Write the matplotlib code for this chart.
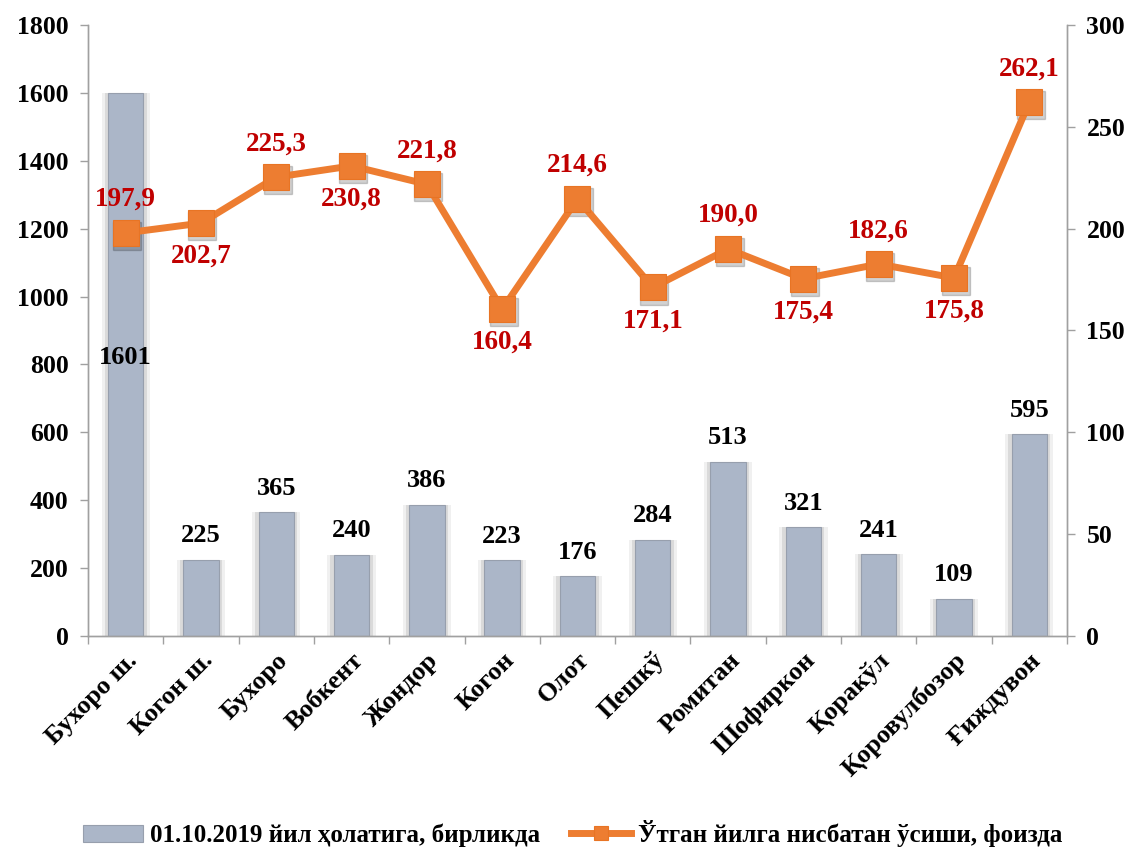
import matplotlib
matplotlib.use("Agg")
import matplotlib.pyplot as plt
import numpy as np

categories = ["Бухоро ш.", "Когон ш.", "Бухоро", "Вобкент", "Жондор", "Когон", "Олот",
              "Пешкў", "Ромитан", "Шофиркон", "Қоракўл", "Қоровулбозор", "Ғиждувон"]
units = [1601, 225, 365, 240, 386, 223, 176, 284, 513, 321, 241, 109, 595]
growth = [197.9, 202.7, 225.3, 230.8, 221.8, 160.4, 214.6, 171.1, 190.0, 175.4, 182.6, 175.8, 262.1]
growth_labels = ["197,9", "202,7", "225,3", "230,8", "221,8", "160,4", "214,6", "171,1",
                 "190,0", "175,4", "182,6", "175,8", "262,1"]
label_above = [True, False, True, False, True, False, True, False, True, False, True, False, True]
left_ticks = [0, 200, 400, 600, 800, 1000, 1200, 1400, 1600, 1800]
right_ticks = [0, 50, 100, 150, 200, 250, 300]
legend_labels = ["01.10.2019 йил ҳолатига, бирликда", "Ўтган йилга нисбатан ўсиши, фоизда"]

plt.rcParams['font.family'] = ['Liberation Serif', 'DejaVu Serif']
plt.rcParams['font.weight'] = 'bold'

fig = plt.figure(figsize=(11.34, 8.49), dpi=100)
ax = fig.add_axes([0.0776, 0.2509, 0.8633, 0.7197])
ax2 = ax.twinx()

x = np.arange(len(categories))
bar_color = "#ABB6C8"
line_color = "#ED7D31"
spine_color = "#A0A0A0"

# soft glow/shadow around bars
ax.bar(x, units, width=0.64, color="#F0F0F0", zorder=1, linewidth=0)
ax.bar(x, units, width=0.56, color="#DADADA", zorder=1, linewidth=0)
bars = ax.bar(x, units, width=0.47, color=bar_color, edgecolor="#979FAD", linewidth=0.8, zorder=2,
              label=legend_labels[0])

for i, v in enumerate(units):
    if v > 1000:
        ax.text(x[i], v * 0.512, str(v), ha='center', va='center', fontsize=19,
                fontweight='bold', color='black', zorder=5)
    else:
        ax.annotate(str(v), (x[i], v), xytext=(0, 9), textcoords='offset points',
                    ha='center', va='bottom', fontsize=19, fontweight='bold', color='black')

ax.set_xlim(-0.5, len(categories) - 0.5)
ax.set_ylim(0, 1800)
ax.set_yticks(left_ticks)
ax.set_yticklabels([str(t) for t in left_ticks], fontsize=18.5, fontweight='bold')
ax.set_xticks(x)
ax.set_xticklabels(categories, rotation=45, ha='right', rotation_mode='anchor',
                   fontsize=19, fontweight='bold')
ax.tick_params(axis='x', length=0, pad=9)
ax.set_xticks(np.arange(-0.5, len(categories), 1), minor=True)
ax.tick_params(axis='x', which='minor', length=6, color=spine_color, width=1)
ax.tick_params(axis='y', length=6, color=spine_color, width=1, pad=8)

# marker shadows
ax2.plot(x + 0.02, [g - 1.5 for g in growth], linestyle='none', marker='s', markersize=20,
         color='#000000', alpha=0.18, zorder=3)
line, = ax2.plot(x, growth, color=line_color, linewidth=5, marker='s', markersize=19,
                 markerfacecolor=line_color, markeredgecolor="#E87424", markeredgewidth=0.8,
                 zorder=4, label=legend_labels[1])
for i, v in enumerate(growth):
    dy = 15 if label_above[i] else -15
    ax2.annotate(growth_labels[i], (x[i], v), xytext=(0, dy), textcoords='offset points',
                 ha='center', va='bottom' if label_above[i] else 'top',
                 fontsize=19.5, fontweight='bold', color='#C00000', zorder=6)

ax2.set_ylim(0, 300)
ax2.set_yticks(right_ticks)
ax2.set_yticklabels([str(t) for t in right_ticks], fontsize=18.5, fontweight='bold')
ax2.tick_params(axis='y', length=6, color=spine_color, width=1, pad=8)

for a in (ax, ax2):
    a.spines['top'].set_visible(False)
    for s in ('left', 'right', 'bottom'):
        a.spines[s].set_color(spine_color)
        a.spines[s].set_linewidth(1)

handles = [bars, line]
leg = fig.legend(handles, legend_labels, loc='center', bbox_to_anchor=(0.505, 0.018),
                 ncol=2, frameon=False, handlelength=2.4, columnspacing=1.2,
                 handletextpad=0.3, markerscale=0.55, prop={'weight': 'bold', 'size': 18})

fig.savefig("out.png", dpi=100)
